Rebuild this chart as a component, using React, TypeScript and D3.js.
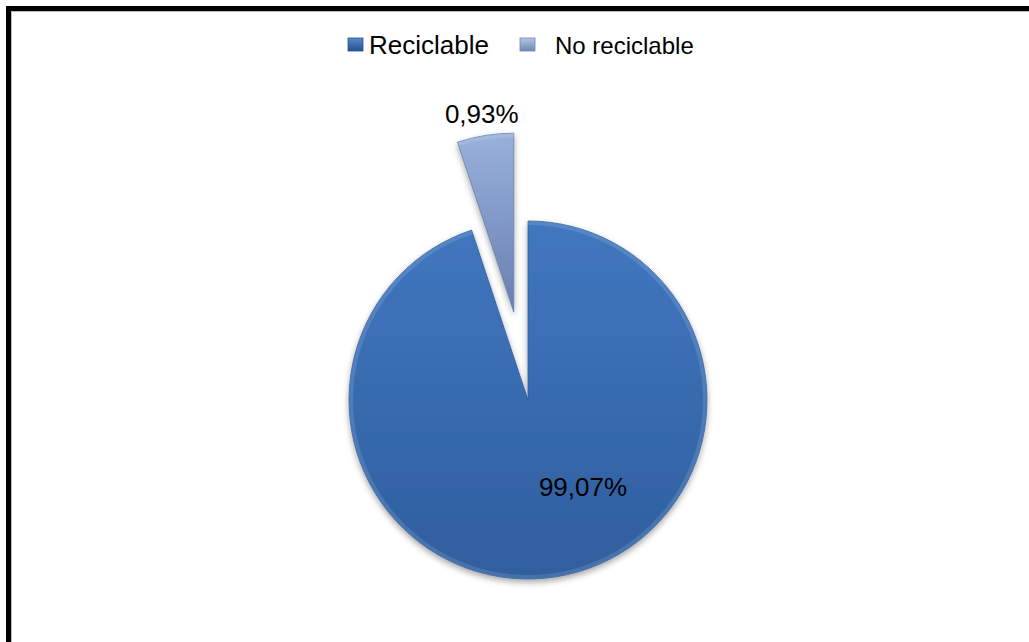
import React from "react";
import * as d3 from "d3";

// Data
const categories: string[] = ["Reciclable", "No reciclable"];
// Slice shares as drawn in the picture (angular share of the circle)
const sliceShares: number[] = [94.9, 5.1];
// Label texts as printed on the chart
const labelTexts: string[] = ["99,07%", "0,93%"];
const topColors: string[] = ["#4177c0", "#98b1db"];
const bottomColors: string[] = ["#2f5e9e", "#687fb0"];
const legendTop: string[] = ["#5b88c8", "#b4c6e6"];
const legendBottom: string[] = ["#25528f", "#6f86b5"];

const W = 1029;
const H = 642;
const cx = 528;
const cy = 400;
const R = 179;
const explode = [0, 89];

export default function App() {
  const pie = d3
    .pie<number>()
    .sort(null)
    .value((d) => d)
    .startAngle(0)
    .endAngle(2 * Math.PI);
  const arcs = pie(sliceShares);
  const arc = d3.arc<d3.PieArcDatum<number>>().innerRadius(0).outerRadius(R);

  const offsets = arcs.map((a, i) => {
    const mid = (a.startAngle + a.endAngle) / 2;
    return [Math.sin(mid) * explode[i], -Math.cos(mid) * explode[i]];
  });

  const labelPos = arcs.map((a, i) => {
    const mid = (a.startAngle + a.endAngle) / 2;
    if (i === 1) {
      const d = R + 22;
      return [offsets[i][0] + Math.sin(mid) * d, offsets[i][1] - Math.cos(mid) * d + 9];
    }
    return [55, 96];
  });

  return (
    <div style={{ position: "absolute", left: 0, top: 0 }}>
      <svg width={W} height={H} style={{ display: "block" }} fontFamily="'Liberation Sans', Arial, sans-serif">
        <defs>
          {categories.map((c, i) => (
            <linearGradient key={c} id={`g${i}`} x1="0" y1="0" x2="0" y2="1">
              <stop offset="0%" stopColor={topColors[i]} />
              <stop offset="100%" stopColor={bottomColors[i]} />
            </linearGradient>
          ))}
          {categories.map((c, i) => (
            <linearGradient key={c + "l"} id={`lg${i}`} x1="0" y1="0" x2="0" y2="1">
              <stop offset="0%" stopColor={legendTop[i]} />
              <stop offset="100%" stopColor={legendBottom[i]} />
            </linearGradient>
          ))}
          <filter id="shadow" x="-20%" y="-20%" width="140%" height="140%">
            <feDropShadow dx="0" dy="3" stdDeviation="3" floodColor="#000" floodOpacity="0.35" />
          </filter>
        </defs>
        <rect x={0} y={0} width={W} height={H} fill="#fff" />
        <rect x={8.5} y={8.5} width={W + 20} height={H + 20} fill="none" stroke="#000" strokeWidth={5} />
        <rect x={11.5} y={11.5} width={W + 20} height={H + 20} fill="none" stroke="#bbb" strokeWidth={1} />

        {/* Legend */}
        <g>
          <rect x={348} y={38} width={15} height={13} fill="url(#lg0)" stroke={legendBottom[0]} strokeWidth={0.8} />
          <text x={369} y={53.5} fontSize={26} fill="#000">
            {categories[0]}
          </text>
          <rect x={520} y={38} width={15} height={13} fill="url(#lg1)" stroke={legendBottom[1]} strokeWidth={0.8} />
          <text x={555} y={53.5} fontSize={24} fill="#000">
            {categories[1]}
          </text>
        </g>

        {/* Pie */}
        <g transform={`translate(${cx},${cy})`}>
          {arcs.map((a, i) => (
            <g key={categories[i]} transform={`translate(${offsets[i][0]},${offsets[i][1]})`} filter="url(#shadow)">
              <path d={arc(a) || ""} fill={`url(#g${i})`} stroke={bottomColors[i]} strokeWidth={0.8} strokeLinejoin="round" />
              <path
                d={d3.arc<d3.PieArcDatum<number>>().innerRadius(R - 4).outerRadius(R)(a) || ""}
                fill="#ffffff"
                opacity={0.12}
              />
            </g>
          ))}
          {arcs.map((a, i) => (
            <text
              key={"l" + i}
              x={labelPos[i][0]}
              y={labelPos[i][1]}
              textAnchor="middle"
              fontSize={26}
              fill="#000"
            >
              {labelTexts[i]}
            </text>
          ))}
        </g>
      </svg>
    </div>
  );
}
